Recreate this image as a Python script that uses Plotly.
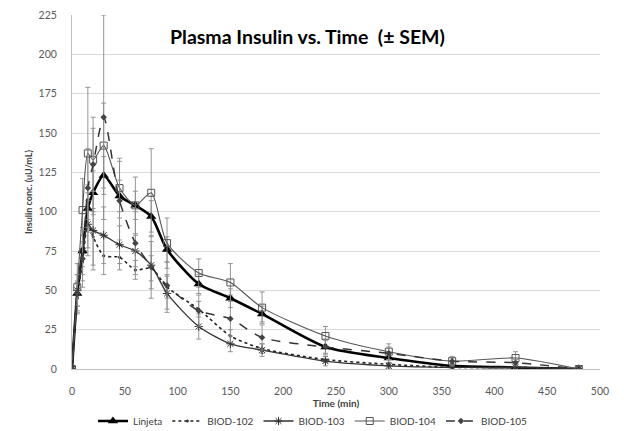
import plotly.graph_objects as go

time_min = [0, 5, 10, 15, 20, 30, 45, 60, 75, 90, 120, 150, 180, 240, 300, 360, 420, 480]

linjeta = [0, 48, 75, 102, 112, 123, 110, 104, 97, 76, 54, 45, 35, 14, 7, 2, 1, 0]
linjeta_sem = [0, 8, 10, 15, 14, 12, 10, 9, 10, 8, 6, 6, 5, 4, 3, 1, 1, 0]

biod102 = [0, 45, 68, 92, 84, 72, 71, 63, 64, 52, 38, 21, 13, 6, 3, 1, 1, 0]
biod102_sem = [0, 10, 12, 15, 18, 12, 8, 6, 8, 7, 5, 4, 3, 2, 1, 1, 1, 0]

biod103 = [0, 50, 75, 92, 88, 85, 79, 75, 66, 48, 27, 16, 12, 5, 2, 1, 1, 0]
biod103_sem = [0, 10, 15, 20, 25, 18, 12, 10, 15, 12, 8, 5, 4, 3, 2, 1, 1, 0]

biod104 = [0, 52, 101, 137, 133, 142, 115, 104, 112, 80, 61, 55, 39, 21, 11, 5, 7, 0]
biod104_sem = [0, 15, 20, 42, 20, 27, 19, 18, 28, 16, 9, 12, 10, 6, 5, 3, 4, 0]

biod105 = [0, 48, 70, 115, 130, 160, 107, 80, 65, 53, 37, 32, 20, 14, 10, 5, 4, 0]
biod105_sem = [0, 12, 18, 25, 30, 65, 25, 20, 20, 15, 10, 15, 8, 5, 4, 2, 2, 0]

series = [
    ("Linjeta", linjeta, linjeta_sem, dict(color="black", width=2.6, dash="solid"),
     dict(symbol="triangle-up", size=9, color="black")),
    ("BIOD-102", biod102, biod102_sem, dict(color="#222222", width=1.6, dash="dot"),
     dict(symbol="circle", size=3, color="#333333")),
    ("BIOD-103", biod103, biod103_sem, dict(color="#333333", width=1.3, dash="solid"),
     dict(symbol="asterisk-open", size=7, color="#333333", line=dict(width=1, color="#333333"))),
    ("BIOD-104", biod104, biod104_sem, dict(color="#555555", width=1.1, dash="solid"),
     dict(symbol="square-open", size=7, color="#555555", line=dict(width=1, color="#555555"))),
    ("BIOD-105", biod105, biod105_sem, dict(color="#333333", width=1.5, dash="dash"),
     dict(symbol="diamond", size=5, color="#444444")),
]

fig = go.Figure()
for name, vals, sem, line, marker in series:
    fig.add_trace(go.Scatter(
        x=time_min, y=vals, name=name, mode="lines+markers",
        line=dict(shape="spline", smoothing=0.7, **line),
        marker=marker,
        error_y=dict(type="data", array=sem, visible=True, color="#8a8a8a",
                     thickness=0.9, width=2.5),
    ))

PLOT_L, PLOT_R, PLOT_T, PLOT_B = 72, 600, 15, 369
W, H = 624, 431
pw, ph = PLOT_R - PLOT_L, PLOT_B - PLOT_T

fig.update_layout(
    width=W, height=H,
    margin=dict(l=PLOT_L, r=W - PLOT_R, t=PLOT_T, b=H - PLOT_B, autoexpand=False),
    paper_bgcolor="white", plot_bgcolor="white",
    font=dict(family="Lato, Open Sans, sans-serif", size=10, color="#404040"),
    showlegend=True,
    legend=dict(orientation="h", x=(313 - PLOT_L) / pw, xanchor="center",
                y=(PLOT_B - 421) / ph, yanchor="middle",
                font=dict(size=10, color="#404040"),
                tracegroupgap=0, bgcolor="rgba(0,0,0,0)"),
    annotations=[dict(text="<b>Plasma Insulin vs. Time  (± SEM)</b>",
                      x=(307 - PLOT_L) / pw, y=(PLOT_B - 37) / ph,
                      xref="paper", yref="paper", showarrow=False,
                      xanchor="center", yanchor="middle",
                      font=dict(size=19.5, color="black", family="Lato, Open Sans, sans-serif"))],
)

fig.update_xaxes(range=[0, 500], dtick=50, tick0=0, showgrid=False,
                 showline=True, linecolor="#bfbfbf", linewidth=1,
                 ticks="", zeroline=False, automargin=False, ticklabelstandoff=12,
                 title=dict(text="<b>Time (min)</b>", standoff=2, font=dict(size=10, color="#404040")),
                 tickfont=dict(size=10.5, color="#595959"))
fig.update_yaxes(range=[0, 225], dtick=25, tick0=0, showgrid=True, gridcolor="#d9d9d9",
                 gridwidth=1, showline=True, linecolor="#bfbfbf", linewidth=1,
                 zeroline=False, ticks="", automargin=False, ticklabelstandoff=12,
                 title=dict(text="<b>Insulin conc. (uU/mL)</b>", standoff=4,
                            font=dict(size=9, color="#404040")),
                 tickfont=dict(size=10.5, color="#595959"))

fig.write_html("out.html")
